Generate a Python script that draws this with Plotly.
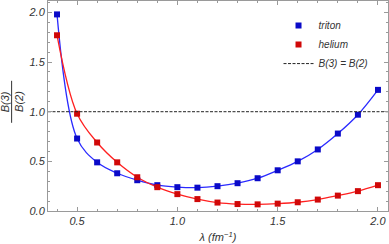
import plotly.graph_objects as go

lam = [0.4, 0.5, 0.6, 0.7, 0.8, 0.9, 1.0, 1.1, 1.2, 1.3, 1.4, 1.5, 1.6, 1.7, 1.8, 1.9, 2.0]
triton = [1.98, 0.73, 0.49, 0.38, 0.31, 0.26, 0.24, 0.235, 0.25, 0.28, 0.33, 0.41, 0.50, 0.62, 0.78, 0.97, 1.22]
helium = [1.77, 0.98, 0.69, 0.49, 0.34, 0.24, 0.17, 0.12, 0.085, 0.07, 0.067, 0.074, 0.088, 0.115, 0.155, 0.20, 0.26]
ref_x = [0.355, 2.05]
ref_y = [1.0, 1.0]

BLUE_L = "#2a2aff"
BLUE_M = "#0a0ac8"
RED_L = "#ff2020"
RED_M = "#d00808"

fig = go.Figure()
fig.add_trace(go.Scatter(x=lam, y=triton, mode="lines", line=dict(color=BLUE_L, width=1.3, shape="spline"),
                         showlegend=False))
fig.add_trace(go.Scatter(x=lam, y=helium, mode="lines", line=dict(color=RED_L, width=1.3, shape="spline"),
                         showlegend=False))
fig.add_trace(go.Scatter(x=lam, y=triton, mode="markers", name="triton",
                         marker=dict(symbol="square", size=6, color=BLUE_M, line=dict(width=0))))
fig.add_trace(go.Scatter(x=lam, y=helium, mode="markers", name="helium",
                         marker=dict(symbol="square", size=6, color=RED_M, line=dict(width=0))))
fig.add_trace(go.Scatter(x=ref_x, y=ref_y, mode="lines", name="B(3) = B(2)",
                         line=dict(color="#222222", width=1, dash="3px,1.5px")))

tickfont = dict(family="Liberation Sans", size=11, color="#333333", style="italic")
axis_common = dict(showgrid=False, zeroline=False, showline=True, linecolor="#9a9a9a", linewidth=1,
                   mirror="allticks", ticks="inside", ticklen=4, tickcolor="#9a9a9a", tickwidth=1,
                   tickfont=tickfont)

fig.update_layout(
    width=389, height=244,
    margin=dict(l=48, r=1, t=1, b=33),
    plot_bgcolor="white", paper_bgcolor="white",
    xaxis=dict(range=[0.355, 2.05], tick0=0.5, dtick=0.5, tickformat=".1f",
               minor=dict(dtick=0.1, tick0=0.5, ticks="inside", ticklen=2, tickcolor="#9a9a9a"),
               title=dict(text="λ (fm<sup>−1</sup>)", font=dict(family="Liberation Sans", size=11, color="#333333", style="italic"), standoff=7),
               **axis_common),
    yaxis=dict(range=[0, 2.115], tick0=0, dtick=0.5, tickformat=".1f",
               minor=dict(dtick=0.1, tick0=0, ticks="inside", ticklen=2, tickcolor="#9a9a9a"),
               **axis_common),
    legend=dict(x=0.678, y=0.952, xanchor="left", yanchor="top", bgcolor="rgba(0,0,0,0)",
                font=dict(family="Liberation Sans", size=10, color="#333333", style="italic"),
                traceorder="normal", itemwidth=30, tracegroupgap=0),
    showlegend=True,
)

# fraction y-axis title
yfont = dict(family="Liberation Sans", size=11, color="#333333", style="italic")
fig.add_annotation(text="B(3)", xref="paper", yref="paper", x=-0.128, y=0.52, xanchor="center", yanchor="middle",
                   textangle=-90, showarrow=False, font=yfont)
fig.add_annotation(text="B(2)", xref="paper", yref="paper", x=-0.085, y=0.52, xanchor="center", yanchor="middle",
                   textangle=-90, showarrow=False, font=yfont)
fig.add_shape(type="line", xref="paper", yref="paper", x0=-0.107, x1=-0.107, y0=0.42, y1=0.62,
              line=dict(color="#333333", width=1))

fig.write_html("out.html", config={"displayModeBar": False},
               post_script="document.body.style.margin='0';document.body.style.overflow='hidden';")
